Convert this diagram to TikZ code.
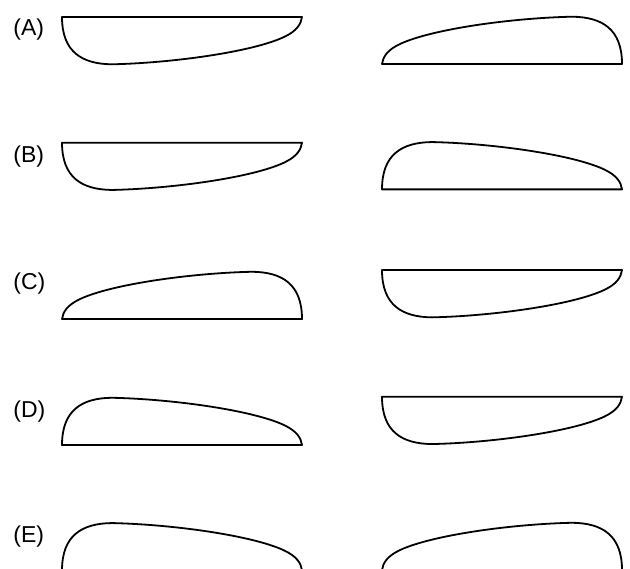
\documentclass[tikz,border=0pt]{standalone}
\usepackage{fontspec}
\setmainfont{Liberation Sans}
\newcommand\leafpath{(120,-23.65) -- (-120,-23.65) .. controls (-120,11.35) and (-100,23.35) .. (-70,23.65) .. controls (-10,22.35) and (70,11.35) .. (102,-3.65) .. controls (115,-9.75) and (119,-16.65) .. (120,-23.65) -- cycle}
\begin{document}
\begin{tikzpicture}[x=0.5pt,y=-0.5pt,
  leaf/.style={draw=black,line width=0.9pt,line join=round},
  lbl/.style={anchor=base west,inner sep=0pt,font=\fontsize{11.5pt}{13pt}\selectfont}]
\useasboundingbox (0,0) rectangle (630,568);
\clip (0,0) rectangle (630,568);
% labels
\node[lbl] (la) at (13,35) {(A)};
\node[lbl] (lb) at (13,162) {(B)};
\node[lbl] (lc) at (13,289) {(C)};
\node[lbl] (ld) at (13,417) {(D)};
\node[lbl] (le) at (13,542) {(E)};
% row A
\begin{scope}[shift={(182,40.65)}] \draw[leaf] \leafpath; \end{scope}
\begin{scope}[shift={(502,40.35)},xscale=-1,yscale=-1] \draw[leaf] \leafpath; \end{scope}
% row B
\begin{scope}[shift={(182,166.3)}] \draw[leaf] \leafpath; \end{scope}
\begin{scope}[shift={(502,165.7)},yscale=-1] \draw[leaf] \leafpath; \end{scope}
% row C
\begin{scope}[shift={(182,295.4)},xscale=-1,yscale=-1] \draw[leaf] \leafpath; \end{scope}
\begin{scope}[shift={(502,293.7)}] \draw[leaf] \leafpath; \end{scope}
% row D
\begin{scope}[shift={(182,421.4)},yscale=-1] \draw[leaf] \leafpath; \end{scope}
\begin{scope}[shift={(502,420.4)}] \draw[leaf] \leafpath; \end{scope}
% row E
\begin{scope}[shift={(182,546.7)},yscale=-1] \draw[leaf] \leafpath; \end{scope}
\begin{scope}[shift={(502,546.4)},xscale=-1,yscale=-1] \draw[leaf] \leafpath; \end{scope}
\end{tikzpicture}
\end{document}
